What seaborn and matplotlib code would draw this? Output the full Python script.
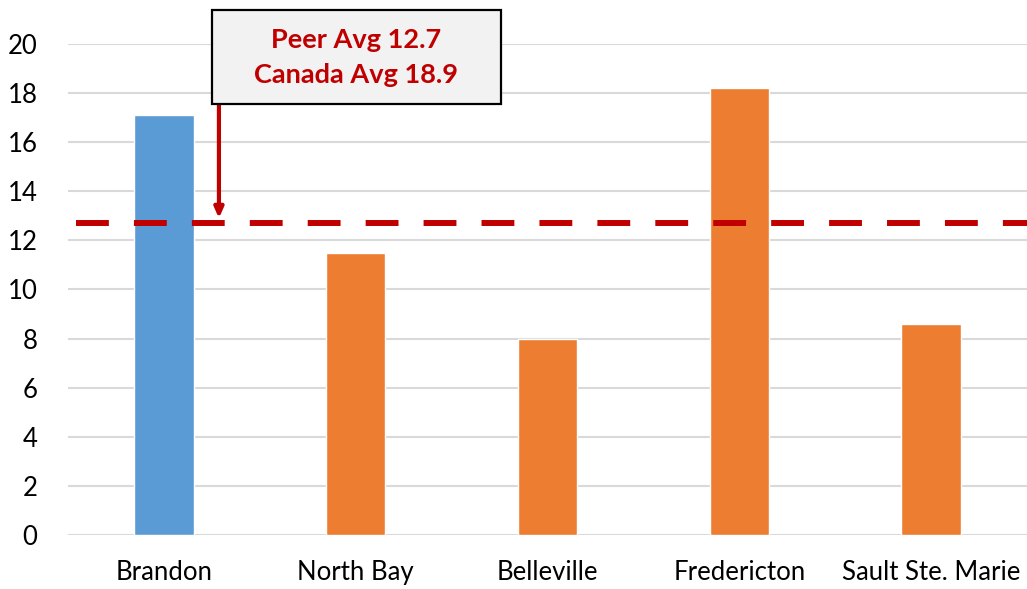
import matplotlib
matplotlib.use("Agg")
import matplotlib.pyplot as plt
from matplotlib.patches import Rectangle
import seaborn as sns
import pandas as pd

cities = ["Brandon", "North Bay", "Belleville", "Fredericton", "Sault Ste. Marie"]
values = [17.1, 11.5, 8.0, 18.2, 8.6]
bar_colors = ["#5B9BD5", "#ED7D31", "#ED7D31", "#ED7D31", "#ED7D31"]
peer_avg = 12.7
canada_avg = 18.9
y_ticks = [0, 2, 4, 6, 8, 10, 12, 14, 16, 18, 20]

sns.set_theme(style="white")
plt.rcParams["font.family"] = ["Lato", "DejaVu Sans"]

df = pd.DataFrame({"city": cities, "value": values})

fig = plt.figure(figsize=(10.27, 5.89), dpi=100)
ax = fig.add_axes([0.0662, 0.0917, 0.9338, 0.8336])

sns.barplot(data=df, x="city", y="value", hue="city",
            palette=dict(zip(cities, bar_colors)), width=0.31,
            legend=False, ax=ax, zorder=3, saturation=1)

ax.set_xlim(-0.5, 4.5)
ax.set_ylim(0, 20)
ax.set_yticks(y_ticks)
ax.set_yticklabels([str(t) for t in y_ticks])
ax.yaxis.grid(True, color="#d9d9d9", linewidth=1.5, zorder=0)
ax.set_axisbelow(True)
for s in ax.spines.values():
    s.set_visible(False)
ax.set_xlabel("")
ax.set_ylabel("")
ax.tick_params(axis="both", length=0, labelsize=18.5, colors="#000000")
ax.tick_params(axis="x", pad=18)
ax.tick_params(axis="y", pad=22)

# peer average reference line
ax.axhline(peer_avg, xmin=0.008, xmax=1.0, color="#C00000", linewidth=4.3,
           linestyle=(0, (5.5, 4.2)), zorder=4)

# callout box (figure coordinates) with arrow down to the reference line
box_x, box_y, box_w, box_h = 0.2064, 0.8234, 0.2814, 0.1596
fig.patches.append(Rectangle((box_x, box_y), box_w, box_h,
                             transform=fig.transFigure, facecolor="#f2f2f2",
                             edgecolor="#000000", linewidth=1.6, zorder=5))
fig.text(box_x + box_w / 2, box_y + box_h / 2,
         f"Peer Avg {peer_avg}\nCanada Avg {canada_avg}",
         ha="center", va="center", color="#C00000", fontsize=19.5,
         fontweight="bold", linespacing=1.55, zorder=6)

ax.annotate("", xy=(0.287, peer_avg + 0.2), xytext=(0.287, 17.56),
            arrowprops=dict(arrowstyle="-|>,head_length=0.5,head_width=0.22",
                            color="#C00000", lw=3, shrinkA=0, shrinkB=0),
            zorder=5, annotation_clip=False)

fig.savefig("out.png", dpi=100)
